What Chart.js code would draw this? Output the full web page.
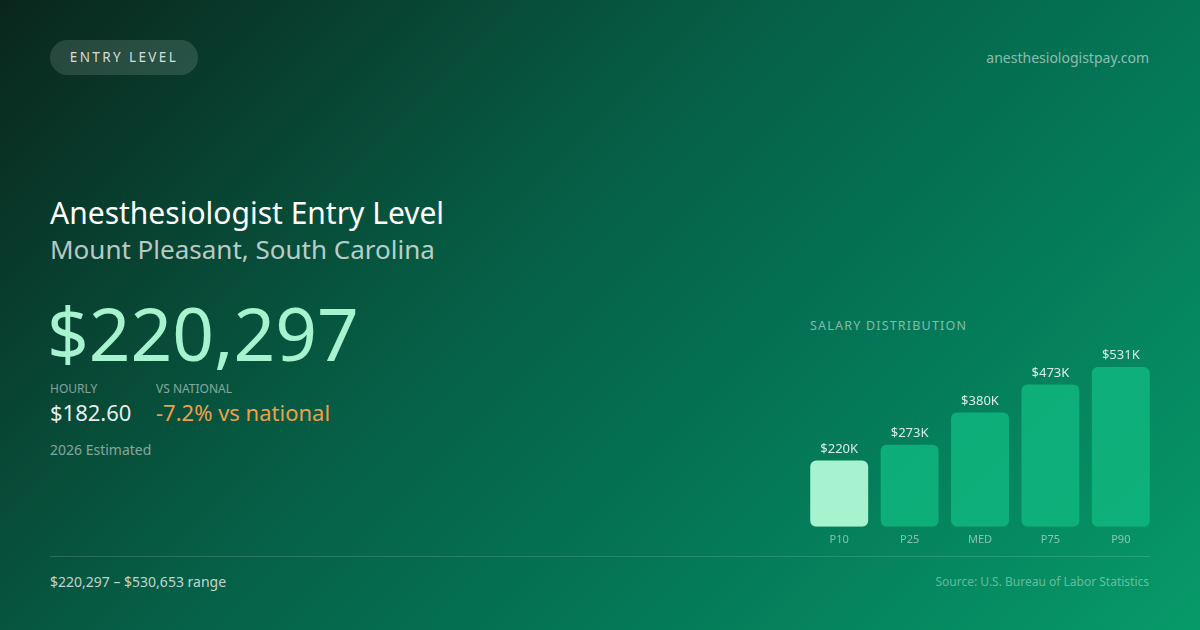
<!DOCTYPE html>
<html>
<head>
<meta charset="utf-8">
<script src="https://cdn.jsdelivr.net/npm/chart.js@4"></script>
<style>
  html, body { margin:0; padding:0; }
  body { width:1200px; height:630px; overflow:hidden; font-family:"Noto Sans", sans-serif; }
  #bg { position:absolute; left:0; top:0; width:1200px; height:630px;
        background: linear-gradient(135deg, #0a261c 0%, #065f46 42%, #047857 68%, #079a69 100%); }
  .t { position:absolute; white-space:nowrap; }
  #badge { left:50px; top:40px; width:148px; height:35px; border-radius:18px; background:rgba(255,255,255,0.13);
           color:rgba(255,255,255,0.82); font-size:13.5px; letter-spacing:2.4px; line-height:35px; text-align:center; }
  #domain { right:51px; top:48px; font-size:14px; color:rgba(255,255,255,0.55); }
  #title { left:50px; top:192px; font-size:30px; color:#ffffff; }
  #sub { left:50px; top:231px; font-size:26px; color:rgba(255,255,255,0.72); }
  #big { left:47px; top:283px; font-size:73px; color:#a7f3d0; }
  .lab { font-size:12px; color:rgba(255,255,255,0.5); top:380px; }
  #hourly { left:50px; top:397px; font-size:22px; color:rgba(255,255,255,0.92); }
  #vsn { left:156px; top:397px; font-size:22px; color:#eda04c; }
  #est { left:50px; top:440px; font-size:14px; color:rgba(255,255,255,0.5); }
  #distlab { left:810px; top:317px; font-size:12.5px; letter-spacing:1.2px; color:rgba(255,255,255,0.5); }
  #rule { position:absolute; left:50px; top:556px; width:1100px; height:1px; background:rgba(255,255,255,0.14); }
  #range { left:50px; top:572px; font-size:14px; color:rgba(255,255,255,0.75); }
  #src { right:51px; top:573px; font-size:12px; color:rgba(255,255,255,0.4); }
  #cw { position:absolute; left:804px; top:338px; width:352px; height:214px; }
</style>
</head>
<body>
<div id="bg"></div>
<div class="t" id="badge">ENTRY LEVEL</div>
<div class="t" id="domain">anesthesiologistpay.com</div>
<div class="t" id="title">Anesthesiologist Entry Level</div>
<div class="t" id="sub">Mount Pleasant, South Carolina</div>
<div class="t" id="big">$220,297</div>
<div class="t lab" style="left:50px">HOURLY</div>
<div class="t lab" style="left:156px">VS NATIONAL</div>
<div class="t" id="hourly">$182.60</div>
<div class="t" id="vsn">-7.2% vs national</div>
<div class="t" id="est">2026 Estimated</div>
<div class="t" id="distlab">SALARY DISTRIBUTION</div>
<div id="rule"></div>
<div class="t" id="range">$220,297 – $530,653 range</div>
<div class="t" id="src">Source: U.S. Bureau of Labor Statistics</div>
<div id="cw"><canvas id="c"></canvas></div>
<script>
const categories = ["P10", "P25", "MED", "P75", "P90"];
const salaryK = [220, 273, 380, 473, 531];
const valueLabels = ["$220K", "$273K", "$380K", "$473K", "$531K"];
const barColors = ["#a7f3d0", "rgba(16,185,129,0.8)", "rgba(16,185,129,0.8)", "rgba(16,185,129,0.8)", "rgba(16,185,129,0.8)"];

const labelPlugin = {
  id: "vlabels",
  afterDatasetsDraw(chart) {
    const ctx = chart.ctx;
    const meta = chart.getDatasetMeta(0);
    ctx.save();
    ctx.font = "13px 'Noto Sans'";
    ctx.fillStyle = "rgba(255,255,255,0.85)";
    ctx.textAlign = "center";
    ctx.textBaseline = "bottom";
    meta.data.forEach((bar, i) => {
      ctx.fillText(valueLabels[i], bar.x, bar.y - 5);
    });
    ctx.restore();
  }
};

new Chart(document.getElementById("c"), {
  type: "bar",
  data: {
    labels: categories,
    datasets: [{
      data: salaryK,
      backgroundColor: barColors,
      borderRadius: 6,
      borderSkipped: false,
      barPercentage: 0.823,
      categoryPercentage: 1.0
    }]
  },
  options: {
    responsive: true,
    maintainAspectRatio: false,
    animation: false,
    layout: { padding: { top: 29, left: 0, right: 0, bottom: 0 } },
    plugins: { legend: { display: false }, tooltip: { enabled: false } },
    scales: {
      x: {
        grid: { display: false, drawTicks: false },
        border: { display: false },
        ticks: { color: "rgba(255,255,255,0.5)", font: { family: "Noto Sans", size: 11 }, padding: 6 }
      },
      y: {
        display: false,
        min: 0,
        max: Math.max(...salaryK)
      }
    }
  },
  plugins: [labelPlugin]
});
</script>
</body>
</html>
